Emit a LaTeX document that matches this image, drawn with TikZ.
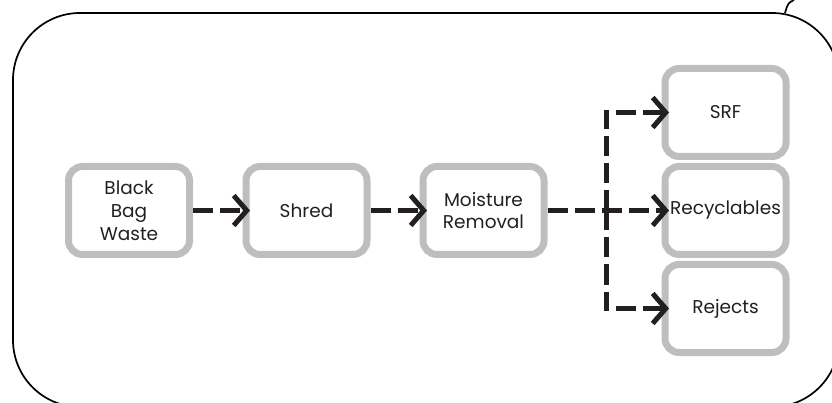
\documentclass[tikz,border=0pt]{standalone}
\usepackage{fontspec}
\setmainfont{Poppins}
\usetikzlibrary{arrows.meta}
\definecolor{grisboite}{HTML}{BCBEC0}
\definecolor{noirtrait}{HTML}{231F20}

\begin{document}
\begin{tikzpicture}[x=1pt,y=-1pt]
%boite : style des étapes, fleche : liaison en tirets
\tikzset{boite/.style={draw=grisboite,line width=7pt,rounded corners=14pt,minimum width=121pt,minimum height=88pt,
  inner sep=0pt,outer sep=0pt,align=center,text=noirtrait,font=\fontsize{18.5}{22.8}\selectfont}}
\tikzset{fleche/.style={noirtrait,line width=5pt,dash pattern=on 20pt off 7pt,
  -{Straight Barb[length=13pt,width=30pt]},shorten <=3.5pt,shorten >=-4pt}}
\clip (0,0) rectangle (832,403);

%cadre arrondi
\draw[line width=1.7pt,rounded corners=67pt] (13,13) rectangle (839,407);
\draw[line width=1.7pt] (785,13) .. controls (788,3) .. (794,0);

%étapes
\node[boite] (bbw) at (129,210.5) {Black\\Bag\\Waste};
\node[boite] (shred) at (306.5,210.5) {Shred};
\node[boite] (moist) at (483.5,210.5) {Moisture\\Removal};
\node[boite] (srf) at (725.5,112.5) {SRF};
\node[boite] (recyc) at (725.5,210.5) {Recyclables};
\node[boite] (rejects) at (725.5,308.5) {Rejects};

%liaisons
\draw[fleche] (bbw.east) -- (shred.west);
\draw[fleche] (shred.east) -- (moist.west);
\draw[fleche] (moist.east) -- (recyc.west);
\coordinate (branche) at (606,210.5);
\draw[fleche,shorten <=0pt] (branche) |- (srf.west);
\draw[fleche,shorten <=0pt] (branche) |- (rejects.west);
\end{tikzpicture}
\end{document}
